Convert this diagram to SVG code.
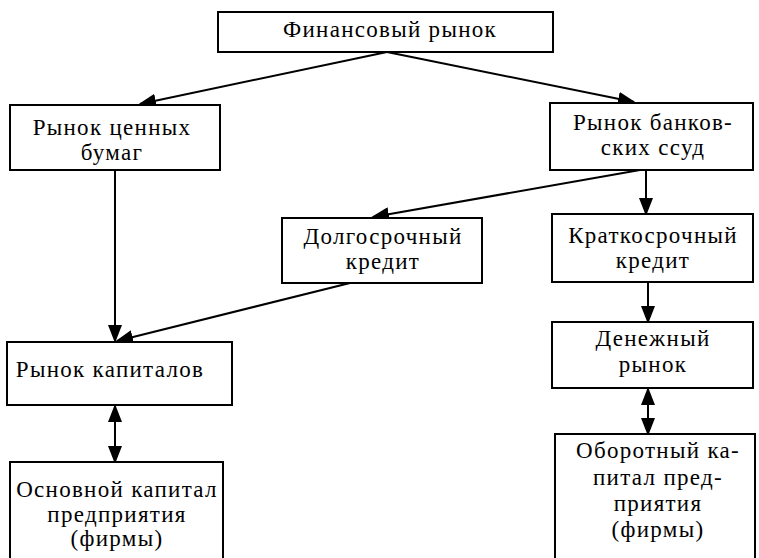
<svg xmlns="http://www.w3.org/2000/svg" width="759" height="558" viewBox="0 0 759 558">
<style>
.box{fill:#fff;stroke:#000;stroke-width:2}
.t{font-family:'Liberation Serif','Noto Serif','Times New Roman',serif;font-size:23px;letter-spacing:1.3px;fill:#000;text-anchor:middle}
.c{fill:none;stroke:#000;stroke-width:2}
</style>
<defs>
<marker id="ah" markerUnits="userSpaceOnUse" markerWidth="18" markerHeight="14" refX="16" refY="7" orient="auto-start-reverse" viewBox="0 0 18 14">
<path d="M0,0 L18,7 L0,14 Z" fill="#000"/>
</marker>
</defs>
<rect width="759" height="558" fill="#fff"/>
<g id="connectors">
<line class="c" x1="387" y1="52" x2="140" y2="104" marker-end="url(#ah)"/>
<line class="c" x1="387" y1="52" x2="634" y2="102" marker-end="url(#ah)"/>
<line class="c" x1="115" y1="170" x2="115" y2="341" marker-end="url(#ah)"/>
<line class="c" x1="646" y1="170" x2="646" y2="214" marker-end="url(#ah)"/>
<line class="c" x1="640" y1="170" x2="373" y2="217" marker-end="url(#ah)"/>
<line class="c" x1="350" y1="283" x2="117" y2="341" marker-end="url(#ah)"/>
<line class="c" x1="648" y1="282" x2="648" y2="322" marker-end="url(#ah)"/>
<line class="c" x1="115" y1="406" x2="115" y2="462" marker-start="url(#ah)" marker-end="url(#ah)"/>
<line class="c" x1="648" y1="389" x2="648" y2="434" marker-start="url(#ah)" marker-end="url(#ah)"/>
</g>
<g id="n1">
<rect class="box" x="218" y="12" width="335" height="40"/>
<text class="t" x="390" y="37">Финансовый рынок</text>
</g>
<g id="n2">
<rect class="box" x="10" y="105" width="210" height="65"/>
<text class="t" x="112" y="135">Рынок ценных</text>
<text class="t" x="112" y="160">бумаг</text>
</g>
<g id="n3">
<rect class="box" x="550" y="103" width="203" height="67"/>
<text class="t" x="653" y="130">Рынок банков-</text>
<text class="t" x="653" y="155">ских ссуд</text>
</g>
<g id="n4">
<rect class="box" x="282" y="218" width="200" height="65"/>
<text class="t" x="383" y="244">Долгосрочный</text>
<text class="t" x="383" y="269">кредит</text>
</g>
<g id="n5">
<rect class="box" x="552" y="214" width="201" height="68"/>
<text class="t" x="653" y="243">Краткосрочный</text>
<text class="t" x="653" y="268">кредит</text>
</g>
<g id="n6">
<rect class="box" x="7" y="342" width="225" height="63"/>
<text class="t" x="110" y="377">Рынок капиталов</text>
</g>
<g id="n7">
<rect class="box" x="552" y="322" width="201" height="66"/>
<text class="t" x="653" y="346">Денежный</text>
<text class="t" x="653" y="372">рынок</text>
</g>
<g id="n8">
<path class="box" d="M10,570 V462 H223 V570"/>
<text class="t" x="117" y="497">Основной капитал</text>
<text class="t" x="117" y="522">предприятия</text>
<text class="t" x="117" y="546">(фирмы)</text>
</g>
<g id="n9">
<path class="box" d="M555,570 V434 H755 V570"/>
<text class="t" x="658" y="458">Оборотный ка-</text>
<text class="t" x="658" y="485">питал пред-</text>
<text class="t" x="658" y="511">приятия</text>
<text class="t" x="658" y="537">(фирмы)</text>
</g>
</svg>
